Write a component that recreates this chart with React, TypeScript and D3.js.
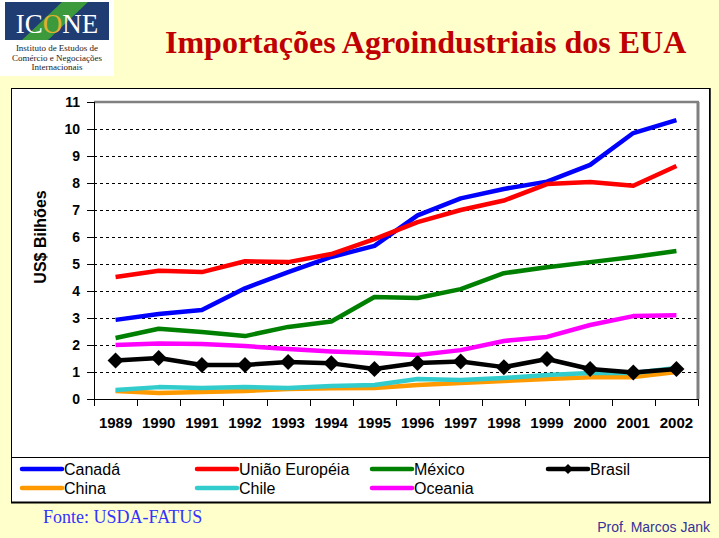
import React from "react";
import * as d3 from "d3";

const years = ["1989","1990","1991","1992","1993","1994","1995","1996","1997","1998","1999","2000","2001","2002"];
const canada = [2.93, 3.15, 3.3, 4.1, 4.7, 5.26, 5.67, 6.8, 7.43, 7.78, 8.05, 8.67, 9.85, 10.33];
const uniaoEuropeia = [4.52, 4.75, 4.7, 5.1, 5.07, 5.37, 5.92, 6.55, 7.0, 7.35, 7.96, 8.04, 7.9, 8.63];
const mexico = [2.26, 2.6, 2.48, 2.33, 2.67, 2.87, 3.78, 3.74, 4.07, 4.66, 4.88, 5.07, 5.26, 5.48];
const brasil = [1.43, 1.52, 1.26, 1.26, 1.37, 1.32, 1.11, 1.33, 1.39, 1.18, 1.48, 1.11, 0.98, 1.11];
const china = [0.3, 0.22, 0.26, 0.3, 0.37, 0.4, 0.41, 0.52, 0.59, 0.67, 0.74, 0.81, 0.81, 1.0];
const chile = [0.33, 0.44, 0.41, 0.44, 0.41, 0.48, 0.52, 0.74, 0.7, 0.78, 0.89, 0.96, 0.96, 1.15];
const oceania = [2.0, 2.06, 2.04, 1.96, 1.85, 1.76, 1.7, 1.63, 1.81, 2.15, 2.3, 2.74, 3.07, 3.1];
const yTicks = [0, 1, 2, 3, 4, 5, 6, 7, 8, 9, 10, 11];

const series = [
  { name: "Canadá", values: canada, color: "#0000FF" },
  { name: "União Européia", values: uniaoEuropeia, color: "#FF0000" },
  { name: "México", values: mexico, color: "#008000" },
  { name: "Brasil", values: brasil, color: "#000000", marker: true },
  { name: "China", values: china, color: "#FF9900" },
  { name: "Chile", values: chile, color: "#33CCCC" },
  { name: "Oceania", values: oceania, color: "#FF00FF" },
];

const W = 719, H = 538;
const plotL = 94, plotR = 698, plotT = 102, plotB = 399;

export default function App() {
  const x = d3.scaleBand<string>().domain(years).range([plotL, plotR]);
  const y = d3.scaleLinear().domain([0, 11]).range([plotB, plotT]);
  const cx = (yr: string) => (x(yr) as number) + x.bandwidth() / 2;
  const line = d3.line<number>().x((_, i) => cx(years[i])).y((v) => y(v));
  const drawOrder = [0, 1, 2, 4, 5, 6, 3];
  const legendCols = [22, 197, 372, 548];
  const legendRows = [469, 488];
  const diamond = (px: number, py: number, r: number) =>
    `M${px},${py - r}L${px + r},${py}L${px},${py + r}L${px - r},${py}Z`;

  return (
    <svg width={W} height={H} style={{ position: "absolute", left: 0, top: 0 }}>
      <rect x={0} y={0} width={W} height={H} fill="#FFFFCC" />
      {/* Logo */}
      <g>
        <rect x={0} y={0} width={114} height={76} fill="#FFFFFF" />
        <rect x={5} y={2} width={104} height={38} fill="#1F3C73" />
        <polygon points="22,40 48,40 88,2 62,2" fill="#3C9A3C" />
        <text x={57} y={33} textAnchor="middle" fontFamily="Liberation Serif" fontSize={27} fill="#FFFFFF">
          IC<tspan fill="#E0B030">O</tspan>NE
        </text>
        <text x={57} y={51} textAnchor="middle" fontFamily="Liberation Serif" fontSize={9} fill="#222">Instituto de Estudos de</text>
        <text x={57} y={61} textAnchor="middle" fontFamily="Liberation Serif" fontSize={9} fill="#222">Comércio e Negociações</text>
        <text x={57} y={70} textAnchor="middle" fontFamily="Liberation Serif" fontSize={9} fill="#222">Internacionais</text>
      </g>
      {/* Title */}
      <text x={165} y={53} fontFamily="Liberation Serif" fontWeight="bold" fontSize={32} fill="#C00000">
        Importações Agroindustriais dos EUA
      </text>
      {/* Chart box */}
      <rect x={11.5} y={88.5} width={698} height={414} fill="#FFFFFF" stroke="#000" strokeWidth={1} />
      <line x1={11} x2={711} y1={502.5} y2={502.5} stroke="#000" strokeWidth={2} />
      <line x1={710} x2={710} y1={88} y2={503} stroke="#000" strokeWidth={1.5} />
      <line x1={11} x2={710} y1={457.5} y2={457.5} stroke="#000" strokeWidth={1} />
      {/* Grid */}
      {yTicks.filter((t) => t > 0 && t < 11).map((t) => (
        <line key={t} x1={plotL} x2={plotR} y1={Math.round(y(t)) + 0.5} y2={Math.round(y(t)) + 0.5}
          stroke="#000" strokeWidth={1} strokeDasharray="3,3" />
      ))}
      {/* plot border gray */}
      <line x1={plotL} x2={plotR + 1} y1={plotT} y2={plotT} stroke="#808080" strokeWidth={2.5} />
      <line x1={plotR} x2={plotR} y1={plotT} y2={plotB} stroke="#808080" strokeWidth={3} />
      {/* Axes */}
      <line x1={plotL + 0.5} x2={plotL + 0.5} y1={plotT} y2={plotB} stroke="#000" strokeWidth={1} />
      <line x1={plotL} x2={plotR + 1} y1={plotB + 0.5} y2={plotB + 0.5} stroke="#000" strokeWidth={1} />
      {yTicks.map((t) => (
        <g key={t}>
          <line x1={87} x2={plotL} y1={Math.round(y(t)) + 0.5} y2={Math.round(y(t)) + 0.5} stroke="#000" />
          <text x={80} y={y(t)} dy="0.35em" textAnchor="end" fontFamily="Liberation Sans" fontWeight="bold" fontSize={14}>{t}</text>
        </g>
      ))}
      {years.map((yr, i) => (
        <line key={yr} x1={Math.round(x(yr) as number) + 0.5} x2={Math.round(x(yr) as number) + 0.5} y1={plotB} y2={406} stroke="#000" />
      ))}
      <line x1={plotR + 0.5} x2={plotR + 0.5} y1={plotB} y2={406} stroke="#000" />
      {years.map((yr) => (
        <text key={yr} x={cx(yr)} y={428} textAnchor="middle" fontFamily="Liberation Sans" fontWeight="bold" fontSize={15}>{yr}</text>
      ))}
      <text transform="translate(46,237) rotate(-90)" textAnchor="middle" fontFamily="Liberation Sans" fontWeight="bold" fontSize={16}>US$ Bilhões</text>
      {/* Series */}
      {drawOrder.map((k) => {
        const s = series[k];
        return (
          <g key={s.name}>
            <path d={line(s.values) || ""} fill="none" stroke={s.color} strokeWidth={4.5} strokeLinejoin="round" />
            {s.marker && s.values.map((v, i) => (
              <path key={i} d={diamond(cx(years[i]), y(v), 8)} fill="#000" />
            ))}
          </g>
        );
      })}
      {/* Legend */}
      {series.map((s, i) => {
        const lx = legendCols[i % 4];
        const ly = legendRows[Math.floor(i / 4)];
        return (
          <g key={s.name}>
            <line x1={lx} x2={lx + 40} y1={ly} y2={ly} stroke={s.color} strokeWidth={4.5} strokeLinecap="round" />
            {s.marker && <path d={diamond(lx + 20, ly, 5)} fill="#000" />}
            <text x={lx + 42} y={ly + 6} fontFamily="Liberation Sans" fontSize={16} fill="#000">{s.name}</text>
          </g>
        );
      })}
      <text x={43} y={523} fontFamily="Liberation Serif" fontSize={18} fill="#3333FF">Fonte: USDA-FATUS</text>
      <text x={710} y={532} textAnchor="end" fontFamily="Liberation Sans" fontSize={14} fill="#333399">Prof. Marcos Jank</text>
    </svg>
  );
}
